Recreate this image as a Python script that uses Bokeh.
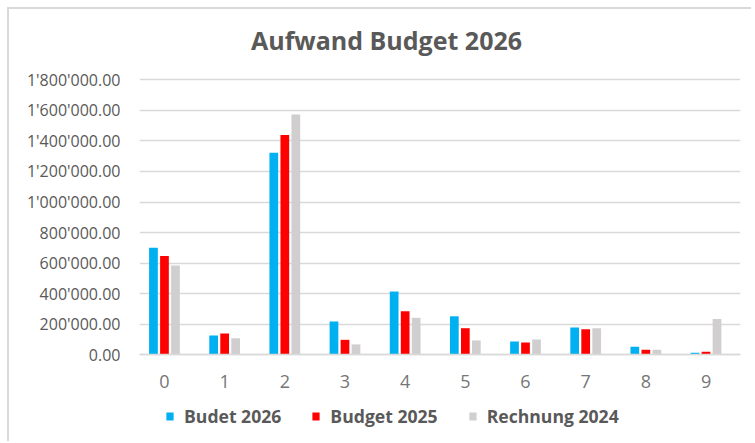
from bokeh.plotting import figure
from bokeh.models import Range1d, FixedTicker, Legend, LegendItem, ColumnDataSource, Spacer, Label
from bokeh.layouts import column, row
from bokeh.transform import dodge
from bokeh.embed import file_html
from bokeh.resources import INLINE

categories = ["0", "1", "2", "3", "4", "5", "6", "7", "8", "9"]
budet_2026 = [700000, 126000, 1322000, 218000, 414000, 252000, 87000, 178000, 52000, 13000]
budget_2025 = [646000, 140000, 1438000, 98000, 285000, 174000, 80000, 167000, 33000, 20000]
rechnung_2024 = [585000, 109000, 1573000, 68000, 242000, 94000, 100000, 174000, 33000, 235000]
series_names = ["Budet 2026", "Budget 2025", "Rechnung 2024"]
series_colors = ["#00B0F0", "#FF0000", "#D0CECE"]
y_ticks = [0, 200000, 400000, 600000, 800000, 1000000, 1200000, 1400000, 1600000, 1800000]
y_tick_labels = ["0.00", "200'000.00", "400'000.00", "600'000.00", "800'000.00",
                 "1'000'000.00", "1'200'000.00", "1'400'000.00", "1'600'000.00", "1'800'000.00"]
title_text = "Aufwand Budget 2026"

FONT = "Open Sans"
TXT = "#595959"

xpos = list(range(len(categories)))
src = ColumnDataSource(dict(x=xpos, a=budet_2026, b=budget_2025, c=rechnung_2024))

# the frame spans the whole canvas height so the title and legend (drawn in the frame) are not clipped
p = figure(width=744, height=434, output_backend="svg", toolbar_location=None,
           x_range=Range1d(-0.415, 9.573), y_range=Range1d(-580600, 2260100),
           min_border_left=130, min_border_top=0, min_border_right=13, min_border_bottom=0,
           background_fill_color="white", border_fill_color="white")
p.styles = {"border-left": "2px solid #d9d9d9", "border-top": "2px solid #d9d9d9"}
p.outline_line_color = None

offsets = [-0.183, 0.0, 0.183]
cols = ["a", "b", "c"]
renderers = []
for col, off, color in zip(cols, offsets, series_colors):
    r = p.vbar(x=dodge("x", off), top=col, width=0.145, source=src,
               fill_color=color, line_color=None)
    renderers.append(r)

p.xgrid.visible = False
p.ygrid.grid_line_color = "#d9d9d9"
p.ygrid.grid_line_width = 1.5
p.yaxis.ticker = FixedTicker(ticks=y_ticks)
p.ygrid.ticker = FixedTicker(ticks=y_ticks)
p.yaxis.major_label_overrides = {t: l for t, l in zip(y_ticks, y_tick_labels)}
p.yaxis.axis_line_color = None
p.yaxis.major_tick_line_color = None
p.yaxis.minor_tick_line_color = None
p.yaxis.major_label_standoff = 13
p.yaxis.major_label_text_font = FONT
p.yaxis.major_label_text_font_size = "16px"
p.yaxis.major_label_text_color = TXT

p.xaxis.fixed_location = 0
p.xaxis.ticker = FixedTicker(ticks=xpos)
p.xaxis.major_label_overrides = {i: c for i, c in zip(xpos, categories)}
p.xaxis.axis_line_color = "#d9d9d9"
p.xaxis.axis_line_width = 1.5
p.xaxis.major_tick_line_color = None
p.xaxis.minor_tick_line_color = None
p.xaxis.major_label_standoff = 14
p.xaxis.major_label_text_font = FONT
p.xaxis.major_label_text_font_size = "18px"
p.xaxis.major_label_text_color = "#767676"

title = Label(x=247, y=404, x_units="screen", y_units="screen", text=title_text,
              text_font=FONT, text_font_size="25px", text_font_style="bold",
              text_color=TXT, text_align="center", text_baseline="middle")
p.add_layout(title)

legend = Legend(items=[LegendItem(label=n, renderers=[r]) for n, r in zip(series_names, renderers)],
                orientation="horizontal", location=(26, 15), padding=0, margin=0,
                spacing=30, label_standoff=10, glyph_width=9, glyph_height=10,
                label_text_font=FONT, label_text_font_size="17.6px", label_text_font_style="bold",
                label_text_color=TXT, border_line_color=None, background_fill_alpha=0)
p.add_layout(legend, "center")

layout = column(Spacer(height=7, width=10), row(Spacer(width=7, height=10), p))
open("out.html", "w").write(file_html(layout, INLINE))
